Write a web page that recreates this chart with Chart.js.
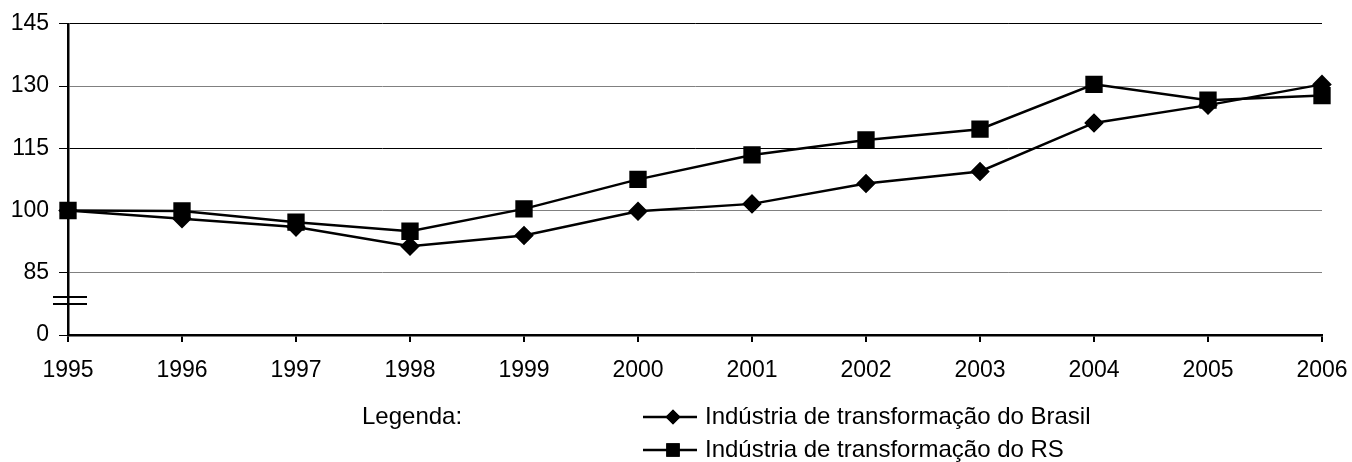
<!DOCTYPE html>
<html>
<head>
<meta charset="utf-8">
<script src="https://cdn.jsdelivr.net/npm/chart.js@4"></script>
<style>
  html, body { margin: 0; padding: 0; background: #fff; }
  #wrap { width: 1352px; height: 462px; }
</style>
</head>
<body>
<div id="wrap"><canvas id="myChart"></canvas></div>
<script>
const years = ['1995', '1996', '1997', '1998', '1999', '2000', '2001', '2002', '2003', '2004', '2005', '2006'];
const brasil = [100, 98.0, 96.0, 91.4, 94.0, 99.8, 101.6, 106.5, 109.4, 121.1, 125.4, 130.4];
const rs = [100, 99.9, 97.2, 95.0, 100.4, 107.5, 113.4, 117.0, 119.6, 130.4, 126.6, 127.7];
const yTicks = [70, 85, 100, 115, 130, 145];
const yTickText = ['0', '85', '100', '115', '130', '145'];
const legendTitle = 'Legenda:';
const seriesNames = ['Indústria de transformação do Brasil', 'Indústria de transformação do RS'];

const FONT = "'Liberation Sans', Arial, sans-serif";
Chart.defaults.font.family = FONT;
Chart.defaults.font.size = 23;
Chart.defaults.color = '#000';

// axis break + custom legend
const extras = {
  id: 'extras',
  afterDraw(chart) {
    const c = chart.ctx;
    const y = chart.scales.y;
    const left = chart.chartArea.left;
    c.save();
    c.strokeStyle = '#000';
    c.lineWidth = 2;
    [79.2, 77.5].forEach(v => {
      const py = Math.round(y.getPixelForValue(v));
      c.beginPath();
      c.moveTo(left - 15, py);
      c.lineTo(left + 19, py);
      c.stroke();
    });

    // legend
    c.font = '24px ' + FONT;
    c.fillStyle = '#000';
    c.textBaseline = 'middle';
    c.textAlign = 'left';
    c.fillText(legendTitle, 362, 417);
    chart.data.datasets.forEach((ds, i) => {
      const ly = 417 + i * 33;
      c.beginPath();
      c.lineWidth = 2.5;
      c.moveTo(643, ly);
      c.lineTo(697, ly);
      c.stroke();
      Chart.helpers.drawPoint(c, {
        pointStyle: ds.pointStyle,
        radius: ds.pointStyle === 'rect' ? 9.5 : 7.5,
        borderWidth: 0
      }, 673, ly);
      c.fill();
      c.fillText(seriesNames[i], 705, ly);
    });
    c.restore();
  }
};

const ctx = document.getElementById('myChart').getContext('2d');
new Chart(ctx, {
  type: 'line',
  data: {
    labels: years,
    datasets: [
      {
        label: seriesNames[0],
        data: brasil,
        borderColor: '#000',
        backgroundColor: '#000',
        borderWidth: 2.5,
        pointStyle: 'rectRot',
        pointRadius: 8,
        tension: 0,
      },
      {
        label: seriesNames[1],
        data: rs,
        borderColor: '#000',
        backgroundColor: '#000',
        borderWidth: 2.5,
        pointStyle: 'rect',
        pointRadius: 10.5,
        tension: 0,
      },
    ],
  },
  options: {
    responsive: true,
    maintainAspectRatio: false,
    animation: false,
    layout: {
      padding: { top: 22, right: 30, bottom: 80, left: 0 },
    },
    plugins: {
      legend: { display: false },
      tooltip: { enabled: false },
    },
    scales: {
      x: {
        offset: false,
        border: { color: '#000', width: 2.5 },
        grid: {
          drawOnChartArea: false,
          tickLength: 7,
          tickColor: '#000',
          lineWidth: 2,
        },
        ticks: { padding: 15, maxRotation: 0, autoSkip: false },
        afterFit(scale) {
          scale.height = 47;
          scale.paddingLeft = 0;
          scale.paddingRight = 0;
        },
      },
      y: {
        min: 70,
        max: 145,
        border: { color: '#000', width: 2.5 },
        grid: {
          tickLength: 9,
          tickColor: '#000',
          color: c => (c.tick && (c.tick.value === 145 || c.tick.value === 115)) ? '#000' : '#808080',
          lineWidth: 1,
        },
        afterBuildTicks(scale) {
          scale.ticks = yTicks.map(v => ({ value: v }));
        },
        ticks: {
          padding: 10,
          callback: v => yTickText[yTicks.indexOf(v)],
        },
        afterFit(scale) { scale.width = 68; },
      },
    },
  },
  plugins: [extras],
});
</script>
</body>
</html>
